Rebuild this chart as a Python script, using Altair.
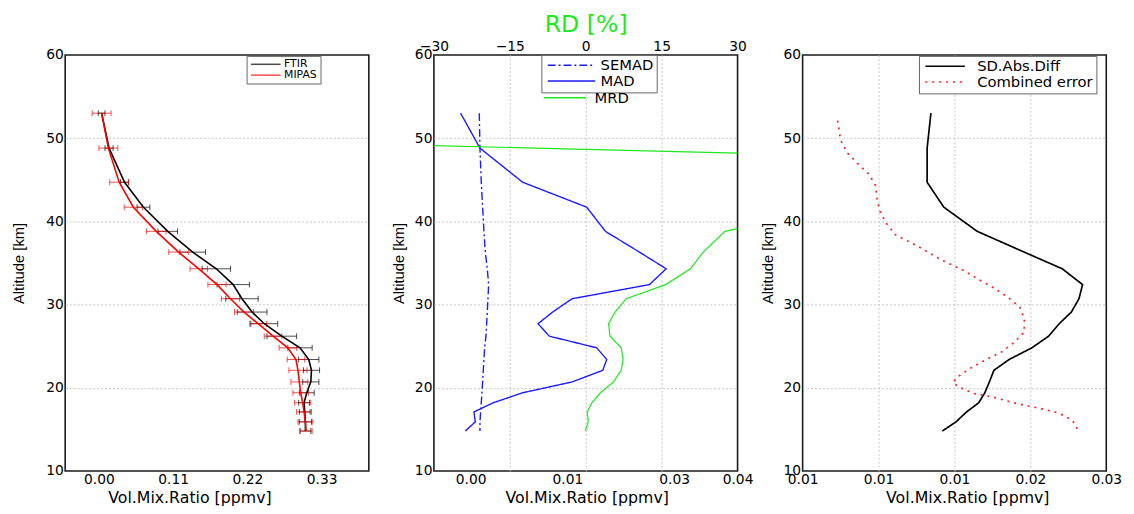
import altair as alt
import pandas as pd

# ---------------- data ----------------
levels = [53.0, 48.8, 44.7, 41.7, 38.8, 36.3, 34.3, 32.4, 30.7, 29.1, 27.7,
          26.2, 24.8, 23.4, 22.1, 20.7, 19.4, 18.2, 17.1, 15.9, 14.8]

ftir_vmr = [0.004, 0.015, 0.038, 0.066, 0.102, 0.139, 0.174, 0.199, 0.212, 0.227, 0.245,
            0.271, 0.298, 0.311, 0.315, 0.314, 0.308, 0.304, 0.305, 0.306, 0.306]
ftir_err = [0.005, 0.006, 0.006, 0.0095, 0.0145, 0.019, 0.021, 0.024, 0.024, 0.022, 0.020,
            0.022, 0.018, 0.015, 0.012, 0.012, 0.011, 0.008, 0.008, 0.009, 0.008]
mipas_vmr = [0.004, 0.014, 0.030, 0.051, 0.085, 0.118, 0.148, 0.175, 0.195, 0.215, 0.236,
             0.258, 0.280, 0.292, 0.295, 0.297, 0.299, 0.302, 0.304, 0.306, 0.307]
mipas_err = [0.014, 0.014, 0.014, 0.0135, 0.0145, 0.0145, 0.013, 0.0135, 0.0135, 0.014, 0.0125,
             0.013, 0.013, 0.013, 0.0135, 0.0125, 0.0115, 0.012, 0.011, 0.011, 0.009]

semad = [0.0013, 0.0014, 0.0016, 0.0018, 0.0020, 0.0022, 0.0025, 0.0027, 0.0026, 0.0025, 0.0024,
         0.0023, 0.0021, 0.0020, 0.0019, 0.0018, 0.0017, 0.0016, 0.0015, 0.0014, 0.0014]
mad = [-0.0015, 0.0014, 0.0078, 0.0174, 0.0202, 0.0253, 0.0293, 0.0268, 0.0152, 0.0123, 0.0101,
       0.0118, 0.0189, 0.0204, 0.0198, 0.0152, 0.0078, 0.0034, 0.0005, 0.0007, -0.0008]
mrd = [-290.0, -10.0, 263.0, 51.0, 27.5, 23.2, 20.7, 15.8, 8.0, 5.8, 4.5,
       4.8, 7.0, 7.4, 7.0, 5.5, 2.9, 1.2, 0.3, 0.5, -0.1]

sd_abs_diff = [0.01345, 0.0132, 0.0132, 0.0143, 0.0165, 0.0196, 0.0221, 0.02344, 0.0232, 0.0227, 0.0219,
               0.0212, 0.0201, 0.0186, 0.0176, 0.0173, 0.0170, 0.0166, 0.0158, 0.0151, 0.0142]
comb_alt = [52.1, 49.8, 48.3, 47.0, 45.6, 44.3, 42.7, 41.2, 39.8, 38.4, 37.0, 35.4, 34.0, 33.0,
            32.0, 30.9, 29.7, 28.3, 26.7, 25.4, 24.3, 23.4, 22.4, 21.3, 20.6, 20.1, 19.3, 18.9,
            18.1, 17.5, 17.1, 16.6, 16.1, 15.6, 14.8]
comb_err = [0.0073, 0.0075, 0.0079, 0.0086, 0.0094, 0.0098, 0.0099, 0.0101, 0.0105, 0.0111, 0.0126,
            0.0141, 0.0157, 0.0166, 0.0176, 0.0185, 0.0193, 0.0196, 0.0196, 0.0189, 0.0181, 0.0171,
            0.0161, 0.0152, 0.0149, 0.0153, 0.0163, 0.0175, 0.0191, 0.0207, 0.0216, 0.0223, 0.0227,
            0.0230, 0.0231]

alt_ticks = [10, 20, 30, 40, 50, 60]
left_ticks = [0.0, 0.11, 0.22, 0.33]
mid_bottom_ticks = [0.0, 0.0145, 0.0305, 0.04]
mid_top_ticks = [-30, -15, 0, 15, 30]
right_ticks = [0.005, 0.01, 0.015, 0.02, 0.025]

# ---------------- styling ----------------
FONT = "DejaVu Sans, Liberation Sans, sans-serif"
NARROW = "Liberation Sans Narrow, Arial Narrow, Liberation Sans, sans-serif"
W, H = 308, 422
GREEN = "#1ee81e"
BLUE = "#1a1aff"
GRID = "#c4c4c4"
FRAME = alt.ViewBackground(stroke="#1a1a1a", strokeWidth=1.6, fill="white")

n = len(levels)
y_scale = alt.Scale(domain=[10, 60], nice=False, zero=False)


def hide_edges(lo, hi):
    return {"condition": {"test": f"datum.value <= {lo} || datum.value >= {hi}", "value": 0},
            "value": 1}


def y_axis(title_pad):
    return alt.Axis(values=alt_ticks, title="Altitude [km]", ticks=False, domain=False,
                    grid=True, gridDash=[2, 2], gridColor=GRID, gridWidth=1,
                    gridOpacity=hide_edges(10, 60), labelFont=FONT, labelFontSize=14,
                    labelColor="black", labelPadding=2, titleFont=NARROW, titleFontSize=15,
                    titleFontWeight="normal", titleColor="black", titlePadding=title_pad)


def x_axis(values, lo, hi, grid=True, title_x=154):
    return alt.Axis(values=values, format=".2f", title="Vol.Mix.Ratio [ppmv]", orient="bottom",
                    ticks=False, domain=False, grid=grid, gridDash=[2, 2], gridColor=GRID,
                    gridWidth=1, gridOpacity=hide_edges(lo, hi), labelFlush=False,
                    labelOverlap=False, labelBound=False, labelFont=FONT, labelFontSize=14,
                    labelColor="black", labelPadding=2, titleFont=FONT, titleFontSize=16,
                    titleFontWeight="normal", titleColor="black", titlePadding=3, titleX=title_x)


def legend(x, y, k, label_offset, font_size, box=True, row_pad=0, stroke_color=None):
    kw = dict(title=None, orient="none", legendX=x, legendY=y,
              symbolType=f"M-1,0H{k}", symbolSize=64, symbolStrokeWidth=1.5,
              labelFont=FONT, labelFontSize=font_size, labelColor="black",
              rowPadding=row_pad, labelOffset=label_offset, padding=3)
    if box:
        kw.update(strokeColor="#666666", fillColor="white")
    if stroke_color:
        kw.update(symbolStrokeColor=stroke_color)
    return alt.Legend(**kw)


# ---------------- panel 1: profiles ----------------
p1 = pd.DataFrame({
    "alt": levels + levels,
    "vmr": ftir_vmr + mipas_vmr,
    "err": ftir_err + mipas_err,
    "series": ["FTIR"] * n + ["MIPAS"] * n,
    "idx": list(range(n)) * 2,
})
p1["lo"] = p1["vmr"] - p1["err"]
p1["hi"] = p1["vmr"] + p1["err"]

x1 = alt.Scale(domain=[-0.05, 0.40], nice=False, zero=False)
c1 = alt.Color("series:N", scale=alt.Scale(domain=["FTIR", "MIPAS"], range=["black", "#ff0000"]),
               legend=legend(184, 1, 6.5, 24, 11, row_pad=-2))
ax1 = x_axis(left_ticks, 1, -1, title_x=126)
ya1 = y_axis(19)

base1 = alt.Chart(p1)
bars1 = base1.mark_rule(strokeWidth=1, opacity=0.7).encode(
    x=alt.X("lo:Q", scale=x1, axis=ax1), x2="hi:Q",
    y=alt.Y("alt:Q", scale=y_scale, axis=ya1), color=c1)
caps1 = base1.transform_fold(["lo", "hi"], as_=["end", "xv"]).mark_tick(
    orient="vertical", size=6, thickness=1, opacity=0.7).encode(
    x=alt.X("xv:Q", scale=x1, axis=ax1), y=alt.Y("alt:Q", scale=y_scale, axis=ya1), color=c1)
lines1 = base1.mark_line(strokeWidth=1.6).encode(
    x=alt.X("vmr:Q", scale=x1, axis=ax1), y=alt.Y("alt:Q", scale=y_scale, axis=ya1),
    color=c1, order="idx:Q")
panel1 = alt.layer(bars1, caps1, lines1).properties(width=W, height=H, view=FRAME)

# ---------------- panel 2: MAD / SEMAD / MRD ----------------
p2 = pd.DataFrame({
    "alt": levels + levels,
    "val": semad + mad,
    "series": ["SEMAD"] * n + ["MAD"] * n,
    "idx": list(range(n)) * 2,
})
p2m = pd.DataFrame({"alt": levels, "mrd": mrd, "series": ["MRD"] * n, "idx": list(range(n))})

xb = alt.Scale(domain=[-0.0055, 0.04], nice=False, zero=False)
xt = alt.Scale(domain=[-30, 30], nice=False, zero=False)
ya2 = y_axis(8)
top_axis = alt.Axis(values=mid_top_ticks, format="d", title="RD [%]", orient="top", ticks=False,
                    domain=False, grid=True, gridDash=[2, 2], gridColor=GRID, gridWidth=1,
                    gridOpacity=hide_edges(-30, 30), labelFlush=False, labelOverlap=False,
                    labelBound=False, labelFont=FONT, labelFontSize=14, labelColor="black",
                    labelPadding=1, titleFont=FONT, titleFontSize=24, titleFontWeight="normal",
                    titleColor=GREEN, titlePadding=4)

dash_lines = alt.Chart(p2).mark_line(strokeWidth=1.4, color=BLUE).encode(
    x=alt.X("val:Q", scale=xb, axis=x_axis(mid_bottom_ticks, 1, -1, grid=False, title_x=155)),
    y=alt.Y("alt:Q", scale=y_scale, axis=ya2),
    strokeDash=alt.StrokeDash("series:N",
                              scale=alt.Scale(domain=["SEMAD", "MAD"], range=[[8, 3, 2, 3], [1, 0]]),
                              legend=legend(109, 0, 11, 42, 15, row_pad=0, stroke_color=BLUE)),
    order="idx:Q")
mrd_line = alt.Chart(p2m).mark_line(strokeWidth=1.2, clip=True).encode(
    x=alt.X("mrd:Q", scale=xt, axis=top_axis),
    y=alt.Y("alt:Q", scale=y_scale, axis=ya2),
    color=alt.Color("series:N", scale=alt.Scale(domain=["MRD"], range=[GREEN]),
                    legend=legend(105, 33, 9.75, 40, 15, box=False)),
    order="idx:Q")
panel2 = alt.layer(dash_lines, mrd_line).resolve_scale(x="independent").properties(
    width=W, height=H, view=FRAME)

# ---------------- panel 3: SD vs combined error ----------------
p3 = pd.DataFrame({
    "alt": levels + comb_alt,
    "val": sd_abs_diff + comb_err,
    "series": ["SD.Abs.Diff"] * n + ["Combined error"] * len(comb_alt),
    "idx": list(range(n)) + list(range(len(comb_alt))),
})
x3 = alt.Scale(domain=[0.005, 0.025], nice=False, zero=False)
dom3 = ["SD.Abs.Diff", "Combined error"]
leg3 = legend(118, 1, 9, 41, 15, row_pad=0)
panel3 = alt.Chart(p3).mark_line(strokeWidth=1.7).encode(
    x=alt.X("val:Q", scale=x3, axis=x_axis(right_ticks, 0.005, 0.025, title_x=167)),
    y=alt.Y("alt:Q", scale=y_scale, axis=y_axis(8)),
    color=alt.Color("series:N", scale=alt.Scale(domain=dom3, range=["black", "#ff2020"]), legend=leg3),
    strokeDash=alt.StrokeDash("series:N", scale=alt.Scale(domain=dom3, range=[[1, 0], [2, 5]]),
                              legend=leg3),
    order="idx:Q").properties(width=W, height=H, view=FRAME)

chart = alt.hconcat(panel1, panel2, panel3, spacing=66, bounds="flush").resolve_scale(
    color="independent", strokeDash="independent").properties(
    padding={"left": 3, "top": 0, "right": 3, "bottom": 2}, background="white").configure_view(
    stroke="#1a1a1a", strokeWidth=1.6)

chart.save("out.html", embed_options={"renderer": "svg", "actions": False})
